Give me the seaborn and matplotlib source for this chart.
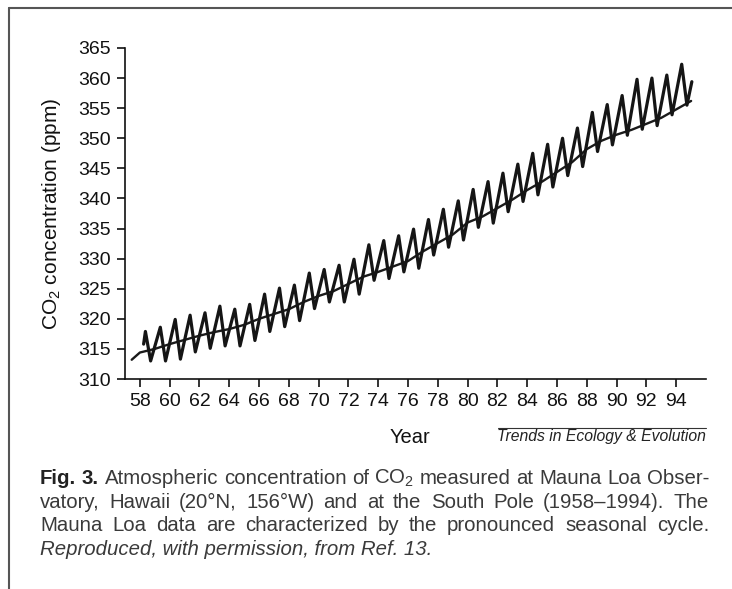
import matplotlib
matplotlib.use('Agg')
import matplotlib.pyplot as plt
from matplotlib.lines import Line2D
import pandas as pd
import seaborn as sns

# Mauna Loa: seasonal maximum (about May) and minimum (about Sep/Oct) for each year
years = list(range(1958, 1995))
ml_peak = [317.9, 318.6, 319.9, 320.6, 321.0, 322.1, 321.6, 322.4, 324.1, 325.1,
           325.6, 327.6, 328.2, 328.9, 329.9, 332.3, 333.0, 333.8, 334.9, 336.5,
           338.2, 339.6, 341.5, 342.8, 344.2, 345.7, 347.5, 349.0, 350.0, 351.7,
           354.3, 355.6, 357.1, 359.8, 360.0, 360.5, 362.3]
ml_trough = [313.0, 313.0, 313.3, 314.5, 315.1, 315.5, 315.5, 316.4, 317.9, 318.7,
             319.7, 321.7, 322.8, 322.8, 324.1, 326.4, 326.7, 327.8, 328.4, 330.6,
             331.9, 333.1, 335.2, 335.9, 337.8, 339.5, 340.6, 341.9, 343.8, 345.3,
             347.8, 348.9, 350.5, 351.5, 352.1, 353.9, 355.5]
peak_at, trough_at = 0.37, 0.72
ml_first = (1958.25, 315.8)
ml_last = (1995.05, 359.4)

# South Pole: smooth record
sp_year = [1957.45, 1958, 1959, 1960, 1961, 1962, 1963, 1964, 1965, 1966, 1967,
           1968, 1969, 1970, 1971, 1972, 1973, 1974, 1975, 1976, 1977, 1978,
           1979, 1980, 1981, 1982, 1983, 1984, 1985, 1986, 1987, 1988, 1989,
           1990, 1991, 1992, 1993, 1994, 1995]
sp_co2 = [313.2, 314.4, 315.0, 315.8, 316.5, 317.2, 317.8, 318.3, 319.0, 320.0,
          320.8, 321.6, 322.8, 323.8, 324.6, 325.8, 327.0, 327.8, 328.7, 329.6,
          331.2, 332.6, 334.0, 336.0, 337.0, 338.4, 339.8, 341.4, 342.8, 344.4,
          346.0, 348.2, 349.6, 350.6, 351.4, 352.4, 353.4, 354.8, 356.2]

tick_years = list(range(1958, 1995, 2))
tick_labels = [str(y)[2:] for y in tick_years]

# build the Mauna Loa zigzag from the yearly extremes
ml_t = [ml_first[0]]
ml_v = [ml_first[1]]
for y, p, tr in zip(years, ml_peak, ml_trough):
    ml_t += [y + peak_at, y + trough_at]
    ml_v += [p, tr]
ml_t.append(ml_last[0])
ml_v.append(ml_last[1])
ml = pd.DataFrame({'year': ml_t, 'co2': ml_v})
sp = pd.DataFrame({'year': sp_year, 'co2': sp_co2})

sns.set_theme(style='ticks')
plt.rcParams['font.family'] = ['Liberation Sans', 'DejaVu Sans']
plt.rcParams['mathtext.fontset'] = 'custom'
plt.rcParams['mathtext.rm'] = 'Liberation Sans'
plt.rcParams['mathtext.it'] = 'Liberation Sans:italic'
plt.rcParams['mathtext.bf'] = 'Liberation Sans:bold'

fig = plt.figure(figsize=(7.32, 5.89), dpi=100)
W, H = 732, 589
ax = fig.add_axes([125 / W, 1 - 379 / H, 581 / W, 331 / H])

sns.lineplot(data=sp, x='year', y='co2', ax=ax, color='#1a1a1a', lw=1.7,
             estimator=None, sort=False)
sns.lineplot(data=ml, x='year', y='co2', ax=ax, color='#151515', lw=2.3,
             estimator=None, sort=False)

ax.set_xlim(1957, 1996)
ax.set_ylim(310, 365)
ax.set_xticks(tick_years)
ax.set_xticklabels(tick_labels)
ax.set_yticks(range(310, 366, 5))
sns.despine(ax=ax)
for s in ['left', 'bottom']:
    ax.spines[s].set_linewidth(1.2)
    ax.spines[s].set_color('#111111')
ax.tick_params(direction='out', length=6, width=1.2, colors='#111111',
               labelsize=14, pad=4)
ax.set_xlabel('Year', fontsize=14.5, color='#111111')
ax.set_ylabel('CO$_2$ concentration (ppm)', fontsize=15, color='#111111')
ax.xaxis.set_label_coords(0.49, -0.148)
ax.yaxis.set_label_coords(-0.107, 0.5)

# journal tag with rule above
fig.text(706 / W, 1 - 437 / H, 'Trends in Ecology & Evolution', fontsize=11.3,
         style='italic', ha='right', va='center', color='#222222')
fig.add_artist(Line2D([498 / W, 706 / W], [1 - 428 / H, 1 - 428 / H],
                      color='#333333', lw=0.8))

# page frame
fig.add_artist(Line2D([9 / W, 1], [1 - 8 / H, 1 - 8 / H], color='#555555', lw=1.5))
fig.add_artist(Line2D([9 / W, 9 / W], [0, 1 - 8 / H], color='#555555', lw=1.5))

# caption, justified line by line
fig.canvas.draw()
renderer = fig.canvas.get_renderer()
plain = dict(fontsize=14.7, color='#3a3a3a')
bold = dict(fontsize=14.7, color='#222222', fontweight='bold')


def caption_line(tokens, y_px, x0=40, x1=709):
    arts = [fig.text(0, 1 - y_px / H, w, ha='left', va='baseline', **kw)
            for w, kw in tokens]
    widths = [a.get_window_extent(renderer).width for a in arts]
    gap = (x1 - x0 - sum(widths)) / (len(arts) - 1)
    x = x0
    for a, w in zip(arts, widths):
        a.set_x(x / W)
        x += w + gap


line1 = [('Fig.', bold), ('3.', bold)] + [
    (w, plain) for w in 'Atmospheric concentration of CO$_2$ measured at Mauna Loa Obser-'.split()]
line2 = [(w, plain) for w in 'vatory, Hawaii (20°N, 156°W) and at the South Pole (1958–1994). The'.split()]
line3 = [(w, plain) for w in 'Mauna Loa data are characterized by the pronounced seasonal cycle.'.split()]
caption_line(line1, 484)
caption_line(line2, 507.5)
caption_line(line3, 531)
fig.text(40 / W, 1 - 555 / H, 'Reproduced, with permission, from Ref. 13.',
         style='italic', ha='left', va='baseline', **plain)

fig.savefig('out.png', dpi=100)
